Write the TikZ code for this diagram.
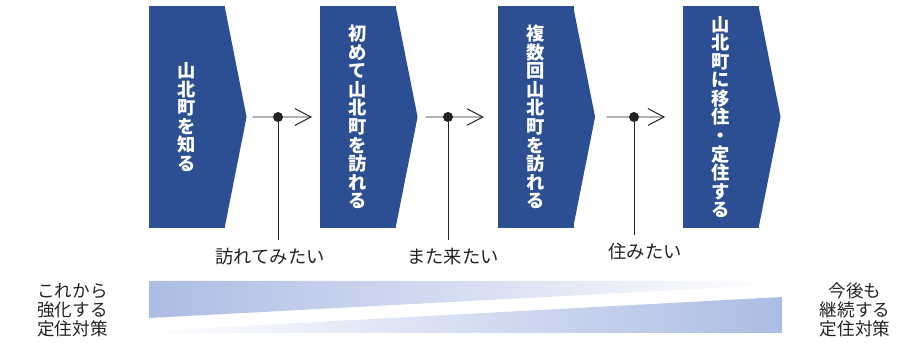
\documentclass[tikz,border=0pt]{standalone}
\usepackage{fontspec}
\setmainfont{Noto Sans CJK JP}
\usetikzlibrary{arrows.meta}
\definecolor{stageblue}{RGB}{44,78,146}
\definecolor{bandblue}{RGB}{172,188,228}
\definecolor{linegray}{RGB}{35,35,35}

\begin{document}
\begin{tikzpicture}[scale=1,inner sep=0pt,outer sep=0pt,
stage/.style={rectangle,fill=stageblue,text=white,minimum width=1.9cm,minimum height=5.55cm,align=center,font=\bfseries\fontsize{13}{13.2}\selectfont},
junction/.style={circle,fill=linegray,minimum size=0.25cm},
wish/.style={font=\fontsize{13}{14}\selectfont,text=linegray},
policy/.style={align=center,font=\fontsize{12.5}{13.5}\selectfont,text=linegray},
flow/.style={draw=linegray,line width=0.7pt,-{Straight Barb[length=4mm,width=4.2mm]}},
drop/.style={draw=linegray,line width=0.7pt,shorten >=0.22cm}]

\useasboundingbox (0,0) rectangle (22.975,8.575);

% stages
\draw (4.675,5.65) node[stage] (b1) {山\\北\\町\\を\\知\\る};
\draw (8.95,5.65) node[stage] (b2) {初\\め\\て\\山\\北\\町\\を\\訪\\れ\\る};
\draw (13.3875,5.65) node[stage] (b3) {複\\数\\回\\山\\北\\町\\を\\訪\\れ\\る};
\draw (18.025,5.65) node[stage] (b4) {山\\北\\町\\に\\移\\住\\・\\定\\住\\す\\る};
\fill[stageblue] ([xshift=-0.3pt]b1.north east) -- ++(0.55,-2.775) coordinate (t1) -- ([xshift=-0.3pt]b1.south east) -- cycle;
\fill[stageblue] ([xshift=-0.3pt]b2.north east) -- ++(0.55,-2.775) coordinate (t2) -- ([xshift=-0.3pt]b2.south east) -- cycle;
\fill[stageblue] ([xshift=-0.3pt]b3.north east) -- ++(0.55,-2.775) coordinate (t3) -- ([xshift=-0.3pt]b3.south east) -- cycle;
\fill[stageblue] ([xshift=-0.3pt]b4.north east) -- ++(0.55,-2.775) coordinate (t4) -- ([xshift=-0.3pt]b4.south east) -- cycle;

% steps between stages
\draw[flow,shorten <=0.15cm,shorten >=0.2cm] (t1) -- (b2.west);
\draw[flow,shorten <=0.2cm,shorten >=0.34cm] (t2) -- (b3.west);
\draw[flow,shorten <=0.29cm,shorten >=0.45cm] (t3) -- (b4.west);
\draw (6.95,5.65) node[junction] (d1) {};
\draw (11.2,5.65) node[junction] (d2) {};
\draw (15.85,5.65) node[junction] (d3) {};

\draw (6.75,2.15) node[wish] (l1) {訪れてみたい};
\draw (11.325,2.15) node[wish] (l2) {また来たい};
\draw (16.125,2.275) node[wish] (l3) {住みたい};
\draw[drop] (d1) -- (d1 |- l1.north);
\draw[drop] (d2) -- (d2 |- l2.north);
\draw[drop] (d3) -- (d3 |- l3.north);

% policy bands
\shade[left color=bandblue,middle color=bandblue!70,right color=white] (3.725,1.55) -- (19.3,1.55) -- (19.3,1.45) -- (3.725,0.625) -- cycle;
\shade[left color=white,middle color=bandblue!70,right color=bandblue] (3.725,0.3) -- (19.55,1.15) -- (19.55,0.25) -- (3.725,0.25) -- cycle;
\draw (1.8125,0.825) node[policy] (p1) {これから\\強化する\\定住対策};
\draw (21.375,0.825) node[policy] (p2) {今後も\\継続する\\定住対策};
\end{tikzpicture}
\end{document}
